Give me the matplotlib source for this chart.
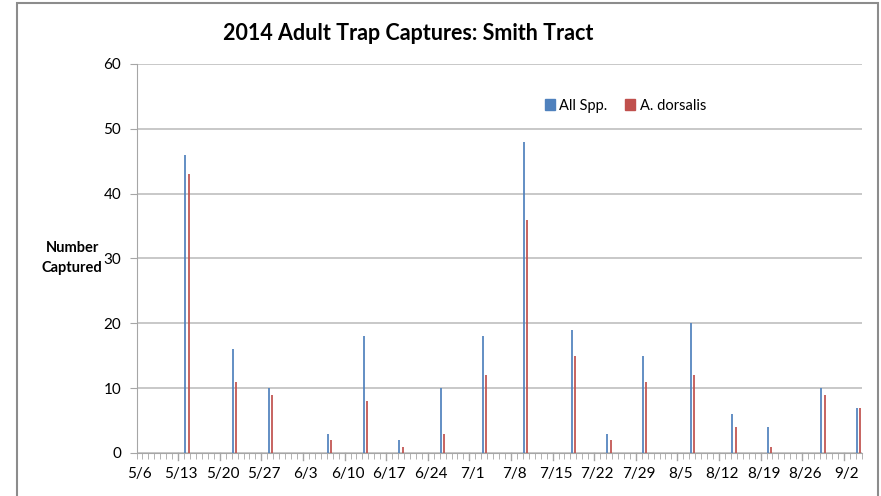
import matplotlib

matplotlib.use("agg")

import matplotlib.pyplot as plt
import numpy as np
import pandas as pd
from matplotlib.patches import Patch, Rectangle

# trap sample dates and counts
sample_dates = ["5/14", "5/22", "5/28", "6/7", "6/13", "6/19", "6/26", "7/3", "7/10",
                "7/18", "7/24", "7/30", "8/7", "8/14", "8/20", "8/29", "9/4"]
all_spp = [46, 16, 10, 3, 18, 2, 10, 18, 48, 19, 3, 15, 20, 6, 4, 10, 7]
dorsalis = [43, 11, 9, 2, 8, 1, 3, 12, 36, 15, 2, 11, 12, 4, 1, 9, 7]

start_date = "2014-05-06"
end_date = "2014-09-04"
y_ticks = [0, 10, 20, 30, 40, 50, 60]

BLUE = "#4F81BD"
RED = "#C0504D"
FONT = ["Lato", "DejaVu Sans"]

days = pd.date_range(start_date, end_date, freq="D")
idx = pd.to_datetime(["2014/" + d for d in sample_dates], format="%Y/%m/%d")
s_all = pd.Series(all_spp, index=idx).reindex(days, fill_value=0)
s_dor = pd.Series(dorsalis, index=idx).reindex(days, fill_value=0)

fig = plt.figure(figsize=(8.81, 4.96), dpi=100)
ax = fig.add_axes([0.155, 0.0867, 0.823, 0.7843])

x = np.arange(len(days))
# bars are only ~1.5 px wide; vertical lines keep them solid on screen
ax.vlines(x - 0.28, 0, s_all.values, colors=BLUE, linewidth=1.25, zorder=3)
ax.vlines(x + 0.28, 0, s_dor.values, colors=RED, linewidth=1.25, zorder=3)

ax.set_xlim(-0.5, len(days) - 0.5)
ax.set_ylim(0, 60)
ax.set_yticks(y_ticks)
ax.yaxis.grid(True, color="#BFBFBF", linewidth=1.2, zorder=0)

# labels every 7 days at category centers, ticks between categories
lab_pos = x[::7]
ax.set_xticks(lab_pos)
ax.set_xticklabels([f"{d.month}/{d.day}" for d in days[::7]])
ax.set_xticks(np.arange(-0.5, len(days)), minor=True)
ax.tick_params(axis="x", which="major", length=0, pad=10, labelsize=11)
ax.tick_params(axis="x", which="minor", length=4, color="#A6A6A6")
ax.tick_params(axis="y", length=5, color="#A6A6A6", labelsize=11, pad=6)
for lab in ax.get_xticklabels() + ax.get_yticklabels():
    lab.set_family(FONT)
# longer ticks at each week boundary
for b in np.arange(6.5, len(days), 7):
    ax.plot([b, b], [0, -0.018], color="#A6A6A6", lw=1, clip_on=False,
            transform=ax.get_xaxis_transform())

for side in ["top", "right"]:
    ax.spines[side].set_visible(False)
ax.spines["left"].set_color("#A6A6A6")
ax.spines["bottom"].set_color("#A6A6A6")

fig.text(0.4637, 0.932, "2014 Adult Trap Captures: Smith Tract", ha="center",
         va="center", fontsize=15.5, fontweight="bold", family=FONT)
fig.text(0.082, 0.48, "Number\nCaptured", ha="center", va="center",
         fontsize=10.5, fontweight="bold", family=FONT, linespacing=1.55)

handles = [Patch(color=BLUE, label="All Spp."), Patch(color=RED, label="A. dorsalis")]
ax.legend(handles=handles, loc="upper left", bbox_to_anchor=(0.545, 0.945), ncol=2,
          frameon=False, handlelength=0.7, handleheight=0.7, handletextpad=0.3,
          columnspacing=1.2, prop={"family": FONT, "size": 10.5})

fig.patches.append(Rectangle((17 / 881, -0.05), 861 / 881, 1 - 3 / 496 + 0.05,
                             transform=fig.transFigure, fill=False,
                             edgecolor="#8C8C8C", linewidth=1.5))

fig.savefig("out.png", dpi=100)
